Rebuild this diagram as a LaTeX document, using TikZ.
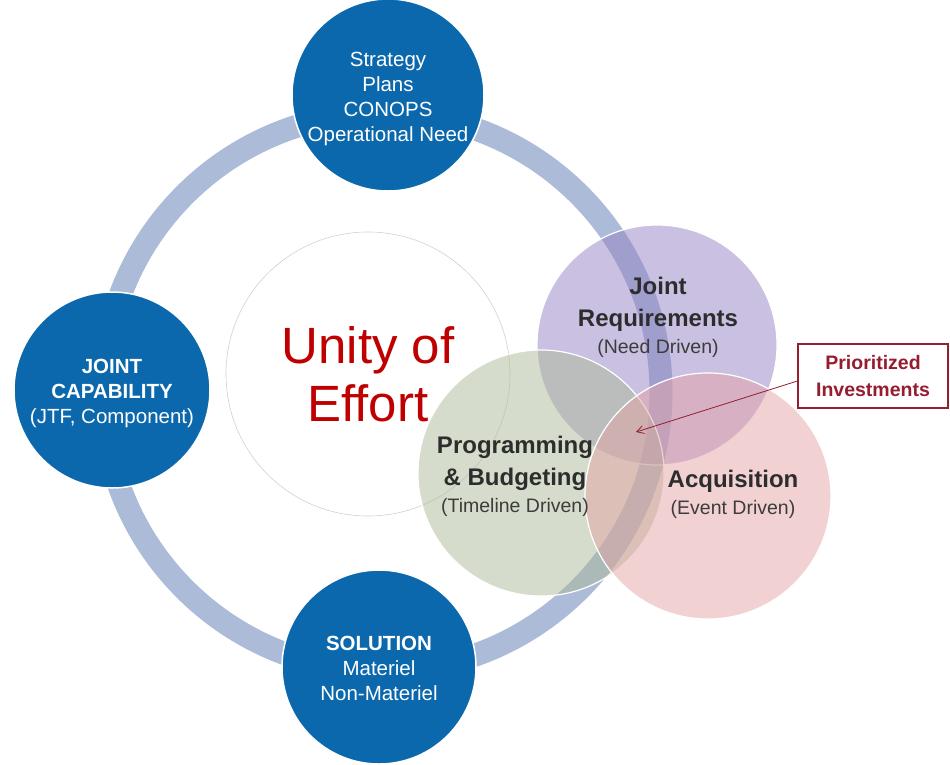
\documentclass[tikz,border=0pt]{standalone}
\usepackage{fontspec}
\setmainfont{Liberation Sans}
\usetikzlibrary{arrows.meta}
\definecolor{bluec}{RGB}{11,104,172}
\definecolor{ringc}{RGB}{171,187,216}
\definecolor{purplec}{RGB}{150,130,195}
\definecolor{greenc}{RGB}{172,186,152}
\definecolor{pinkc}{RGB}{228,164,166}
\definecolor{darkred}{RGB}{150,28,48}
\definecolor{unityred}{RGB}{192,0,0}
\definecolor{headc}{RGB}{45,45,45}
\definecolor{subc}{RGB}{60,60,60}
\tikzset{
  bluecirc/.style={circle, fill=bluec, draw=white, line width=1.5pt, text=white, align=center, inner sep=0pt},
  venn/.style={circle, draw=white, line width=1.2pt, fill opacity=0.5, inner sep=0pt},
  bluetext/.style={font=\fontsize{20.5}{25}\selectfont},
  head/.style={align=center, text=headc, font=\bfseries\fontsize{24}{32}\selectfont},
  sub/.style={align=center, text=subc, font=\fontsize{19.5}{22}\selectfont},
}
\begin{document}
\begin{tikzpicture}[x=1pt, y=-1pt]
\useasboundingbox (0,0) rectangle (950,764);
% ring
\node[circle, draw=ringc, line width=23pt, minimum size=558pt, inner sep=0pt] (ring) at (382,392) {};
% unity circle
\node[circle, fill=white, draw=black!18, line width=0.6pt, minimum size=284pt, inner sep=0pt] (unity) at (368,374) {};
% venn circles
\node[venn, fill=purplec, minimum size=240pt] (jr) at (657,345) {};
\node[venn, fill=greenc, minimum size=246pt] (pb) at (541,473) {};
\node[venn, fill=pinkc, minimum size=246pt] (acq) at (708,496) {};
% blue circles
\node[bluecirc, minimum size=192pt] (top) at (388,95) {};
\node[bluecirc, minimum size=196pt] (left) at (112,390) {};
\node[bluecirc, minimum size=194pt] (bottom) at (379,667) {};
\node[bluetext, text=white, align=center] (toptext) at (388,99) {Strategy\\Plans\\CONOPS\\Operational Need};
\node[bluetext, text=white, align=center] (lefttext) at (112,393) {\textbf{JOINT}\\\textbf{CAPABILITY}\\(JTF, Component)};
\node[bluetext, text=white, align=center] (bottomtext) at (379,668) {\textbf{SOLUTION}\\Materiel\\Non-Materiel};
% unity text
\node[align=center, text=unityred, font=\fontsize{51}{58}\selectfont] (unitytext) at (368,374) {Unity of\\Effort};
% venn labels
\node[head] (jrhead) at (658,304) {Joint\\Requirements};
\node[sub] (jrsub) at (658,348) {(Need Driven)};
\node[head] (pbhead) at (515,463) {Programming\\\& Budgeting};
\node[sub] (pbsub) at (515,507) {(Timeline Driven)};
\node[head] (acqhead) at (733,481) {Acquisition};
\node[sub] (acqsub) at (733,509) {(Event Driven)};
% box and arrow
\node[draw=darkred, line width=1.2pt, fill=white, minimum width=150pt, minimum height=64pt, align=center, text=darkred, font=\bfseries\fontsize{19.5}{27}\selectfont] (box) at (873,376) {Prioritized\\Investments};
\coordinate (pi) at (636,432);
\draw[darkred, line width=0.8pt, -{Straight Barb[length=7pt,width=8pt]}] ([yshift=-5pt]box.west) -- (pi);
\end{tikzpicture}
\end{document}
